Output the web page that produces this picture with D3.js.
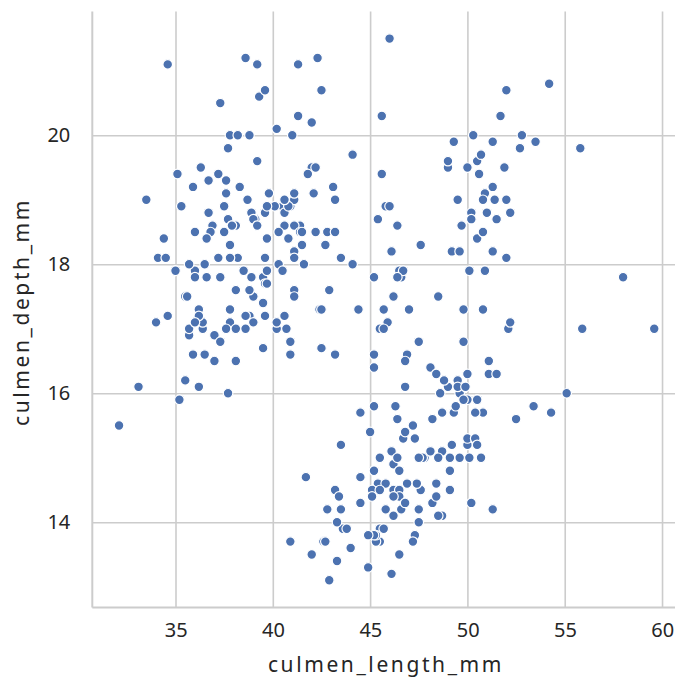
<!DOCTYPE html>
<html>
<head>
<meta charset="utf-8">
<script src="https://cdn.jsdelivr.net/npm/d3@7"></script>
<style>
  html, body { margin: 0; padding: 0; background: #ffffff; }
  svg { display: block; }
  text { font-family: "Noto Sans", "Open Sans", sans-serif; fill: #262626; }
</style>
</head>
<body>
<svg id="chart" width="675" height="682"></svg>
<script>
// Penguin culmen measurements (mm), one entry per bird
const culmenLength = [
  39.1,39.5,40.3,36.7,39.3,38.9,39.2,34.1,42.0,37.8,37.8,41.1,38.6,34.6,36.6,38.7,42.5,34.4,46.0,
  37.8,37.7,35.9,38.2,38.8,35.3,40.6,40.5,37.9,40.5,39.5,37.2,39.5,40.9,36.4,39.2,38.8,42.2,37.6,39.8,
  36.5,40.8,36.0,44.1,37.0,39.6,41.1,37.5,36.0,42.3,39.6,40.1,35.0,42.0,34.5,41.4,39.0,40.6,36.5,37.6,
  35.7,41.3,37.6,41.1,36.4,41.6,35.5,41.1,35.9,41.8,33.5,39.7,39.6,45.8,35.5,42.8,40.9,37.2,36.2,42.1,
  34.6,42.9,36.7,35.1,37.3,41.3,36.3,36.9,38.3,38.9,35.7,41.1,34.0,39.6,36.2,40.8,38.1,40.3,33.1,43.2,
  35.0,41.0,37.7,37.8,37.9,39.7,38.6,38.2,38.1,43.2,38.1,45.6,39.7,42.2,39.6,42.7,38.6,37.3,35.7,41.1,
  36.2,37.7,40.2,41.4,35.2,40.6,38.8,41.5,39.0,44.1,38.5,43.1,36.8,37.5,38.1,41.1,35.6,40.2,37.0,39.7,
  40.2,40.6,32.1,40.7,37.3,39.0,39.2,36.6,36.0,37.8,36.0,41.5,
  46.5,50.0,51.3,45.4,52.7,45.2,46.1,51.3,46.0,51.3,46.6,51.7,47.0,52.0,45.9,50.5,50.3,58.0,46.4,49.2,
  42.4,48.5,43.2,50.6,46.7,52.0,50.5,49.5,46.4,52.8,40.9,54.2,42.5,51.0,49.7,47.5,47.6,52.0,46.9,53.5,
  49.0,46.2,50.9,45.5,50.9,50.8,50.1,49.0,51.5,49.8,48.1,51.4,45.7,50.7,42.5,52.2,45.2,49.3,50.2,45.6,
  51.9,46.8,45.7,55.8,43.5,49.6,50.8,50.2,
  46.1,50.0,48.7,50.0,47.6,46.5,45.4,46.7,43.3,46.8,40.9,49.0,45.5,48.4,45.8,49.3,42.0,49.2,46.2,48.7,
  50.2,45.1,46.5,46.3,42.9,46.1,44.5,47.8,48.2,50.0,47.3,42.8,45.1,59.6,49.1,48.4,42.6,44.4,44.0,48.7,
  42.7,49.6,45.3,49.6,50.5,43.6,45.5,50.5,44.9,45.2,46.6,48.5,45.1,50.1,46.5,45.0,43.8,45.5,43.2,50.4,
  45.3,46.2,45.7,54.3,45.8,49.8,46.2,49.5,43.5,50.7,47.7,46.4,48.2,46.5,46.4,48.6,47.5,51.1,45.2,45.2,
  49.1,52.5,47.4,50.0,44.9,50.8,43.4,51.3,47.5,52.1,47.5,52.2,45.5,49.5,44.5,50.8,49.4,46.9,48.4,51.1,
  48.5,55.9,47.2,49.1,47.3,46.8,41.7,53.4,43.3,48.1,50.5,49.8,43.5,51.5,46.2,55.1,44.5,48.8,47.2,46.8,
  50.4,45.2,49.9
];
const culmenDepth = [
  18.7,17.4,18.0,19.3,20.6,17.8,19.6,18.1,20.2,17.1,17.3,17.6,21.2,21.1,17.8,19.0,20.7,18.4,21.5,
  18.3,18.7,19.2,18.1,17.2,18.9,18.6,17.9,18.6,18.9,16.7,18.1,17.8,18.9,17.0,21.1,20.0,18.5,19.3,19.1,
  18.0,18.4,18.5,19.7,16.9,18.8,19.0,18.9,17.9,21.2,17.7,18.9,17.9,19.5,18.1,18.6,17.5,18.8,16.6,19.1,
  16.9,21.1,17.0,18.2,17.1,18.0,16.2,19.1,16.6,19.4,19.0,18.4,17.2,18.9,17.5,18.5,16.8,19.4,16.1,19.1,
  17.2,17.6,18.8,19.4,17.8,20.3,19.5,18.6,19.2,18.8,18.0,18.1,17.1,18.1,17.3,18.9,18.6,18.5,16.1,18.5,
  17.9,20.0,16.0,20.0,18.6,18.9,17.2,20.0,17.0,19.0,16.5,20.3,17.7,19.5,20.7,18.3,17.0,20.5,17.0,18.6,
  17.2,19.8,17.0,18.5,15.9,19.0,17.6,18.3,17.1,18.0,17.9,19.2,18.5,18.5,17.6,17.5,17.5,20.1,16.5,17.9,
  17.1,17.2,15.5,17.0,16.8,18.7,18.6,18.4,17.8,18.1,17.1,18.5,
  17.9,19.5,19.2,18.7,19.8,17.8,18.2,18.2,18.9,19.9,17.8,20.3,17.3,18.1,17.1,19.6,20.0,17.8,18.6,18.2,
  17.3,17.5,16.6,19.4,17.9,19.0,18.4,19.0,17.8,20.0,16.6,20.8,16.7,18.8,18.6,16.8,18.3,20.7,16.6,19.9,
  19.5,17.5,19.1,17.0,17.9,18.5,17.9,19.6,18.7,17.3,16.4,19.0,17.3,19.7,17.3,18.8,16.6,19.9,18.8,19.4,
  19.5,16.5,17.0,19.8,18.1,18.2,19.0,18.7,
  13.2,16.3,14.1,15.2,14.5,13.5,14.6,15.3,13.4,15.4,13.7,16.1,13.7,14.6,14.6,15.7,13.5,15.2,14.5,15.1,
  14.3,14.5,14.5,15.8,13.1,15.1,14.3,15.0,14.3,15.3,15.3,14.2,14.5,17.0,14.8,16.3,13.7,17.3,13.6,15.7,
  13.7,16.0,13.7,15.0,15.9,13.9,13.9,15.9,13.3,15.8,14.2,14.1,14.4,15.0,14.4,15.4,13.9,15.0,14.5,15.3,
  13.8,14.9,13.9,15.7,14.2,16.8,14.4,16.2,14.2,15.0,15.0,15.6,15.6,14.8,15.0,16.0,14.2,16.3,13.8,16.4,
  14.5,15.6,14.6,15.9,13.8,17.3,14.4,14.2,14.0,17.0,15.0,17.1,14.5,16.1,14.7,15.7,15.8,14.6,14.4,16.5,
  15.0,17.0,15.5,15.0,13.8,16.1,14.7,15.8,14.0,15.1,15.2,15.9,15.2,16.3,14.1,16.0,15.7,16.2,13.7,14.3,
  15.7,14.8,16.1
];
const xTicks = [35, 40, 45, 50, 55, 60];
const yTicks = [14, 16, 18, 20];
const xLabel = "culmen_length_mm";
const yLabel = "culmen_depth_mm";

const points = culmenLength.map((v, i) => ({ x: v, y: culmenDepth[i] }));

const plot = { left: 92.3, right: 681, top: 11.5, bottom: 607.4 };
const gridColor = "#cccccc";
const dotColor = "#4c72b0";
const fontFamily = "Noto Sans, Open Sans, sans-serif";

// pad the data extent by 5% on each side
function padded(extent) {
  const span = extent[1] - extent[0];
  return [extent[0] - span * 0.05, extent[1] + span * 0.05];
}

const x = d3.scaleLinear()
  .domain(padded(d3.extent(culmenLength)))
  .range([plot.left, plot.right]);
const y = d3.scaleLinear()
  .domain(padded(d3.extent(culmenDepth)))
  .range([plot.bottom, plot.top]);

const svg = d3.select("#chart");

// gridlines with tick labels
const xAxis = svg.append("g")
  .attr("transform", `translate(0,${plot.bottom})`)
  .call(d3.axisBottom(x).tickValues(xTicks).tickFormat(d3.format("d"))
    .tickSize(-(plot.bottom - plot.top)).tickPadding(15));
xAxis.select(".domain").remove();
xAxis.selectAll(".tick line").attr("stroke", gridColor).attr("stroke-width", 1.6);
xAxis.selectAll(".tick text")
  .attr("font-size", 20).attr("fill", "#262626")
  .attr("font-family", fontFamily)
  .attr("dx", "0.25");

const yAxis = svg.append("g")
  .attr("transform", `translate(${plot.left},0)`)
  .call(d3.axisLeft(y).tickValues(yTicks).tickFormat(d3.format("d"))
    .tickSize(-(plot.right - plot.left)).tickPadding(22));
yAxis.select(".domain").remove();
yAxis.selectAll(".tick line").attr("stroke", gridColor).attr("stroke-width", 1.6);
yAxis.selectAll(".tick text")
  .attr("font-size", 20).attr("fill", "#262626")
  .attr("font-family", fontFamily);

// left and bottom spines
svg.append("line")
  .attr("x1", plot.left).attr("x2", plot.left)
  .attr("y1", plot.top).attr("y2", plot.bottom)
  .attr("stroke", gridColor).attr("stroke-width", 2);
svg.append("line")
  .attr("x1", plot.left).attr("x2", plot.right)
  .attr("y1", plot.bottom).attr("y2", plot.bottom)
  .attr("stroke", gridColor).attr("stroke-width", 2);

// scatter points
svg.append("g")
  .selectAll("circle")
  .data(points)
  .join("circle")
  .attr("cx", d => x(d.x))
  .attr("cy", d => y(d.y))
  .attr("r", 4.8)
  .attr("fill", dotColor)
  .attr("stroke", "#ffffff")
  .attr("stroke-width", 1.2);

// axis titles
svg.append("text")
  .attr("x", 386)
  .attr("y", 672)
  .attr("text-anchor", "middle")
  .attr("font-size", 21)
  .attr("letter-spacing", 2.6)
  .attr("font-family", fontFamily)
  .text(xLabel);
svg.append("text")
  .attr("transform", `translate(29,312) rotate(-90)`)
  .attr("text-anchor", "middle")
  .attr("font-size", 21)
  .attr("letter-spacing", 2.6)
  .attr("font-family", fontFamily)
  .text(yLabel);
</script>
</body>
</html>
